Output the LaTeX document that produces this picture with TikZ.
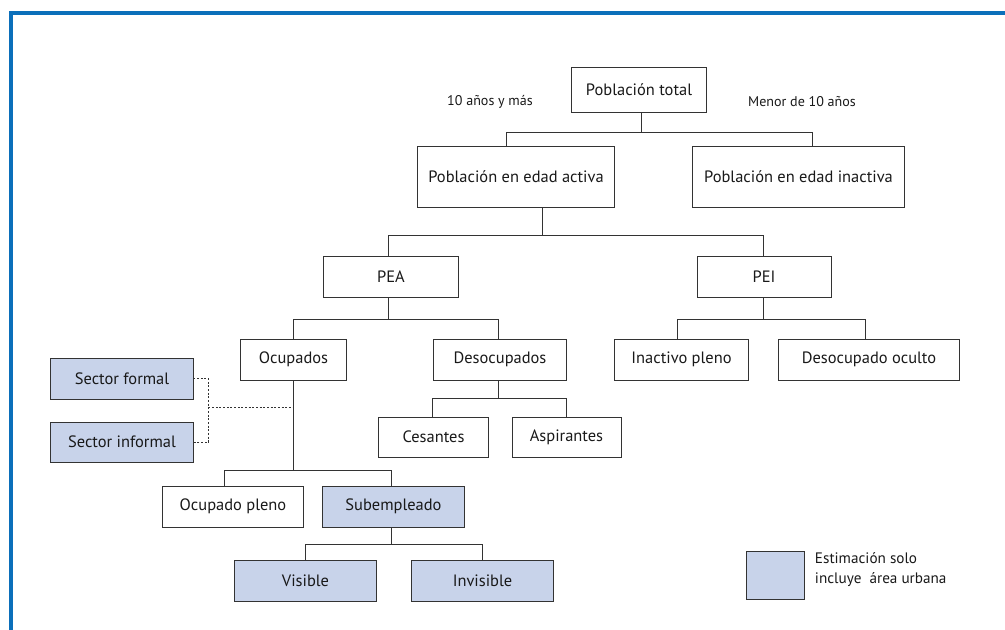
\documentclass[tikz,border=0pt]{standalone}
\usepackage{fontspec}
\setmainfont{PT Sans}
\usetikzlibrary{calc}
\definecolor{marco}{HTML}{0B6FBA}
\definecolor{urbano}{HTML}{C8D3EA}
\definecolor{linea}{HTML}{333333}
\tikzset{
  caja/.style={draw=linea, line width=0.7pt, minimum height=1.025cm, inner sep=2pt,
    text=black!90, font=\fontsize{11.7}{14}\selectfont},
  cajaurb/.style={caja, fill=urbano},
  rama/.style={draw=linea, line width=0.7pt},
  punteado/.style={draw=linea, line width=0.7pt, dash pattern=on 1.4pt off 1.2pt},
  etiq/.style={text=black!90, font=\fontsize{10}{14}\selectfont}
}
\begin{document}
\begin{tikzpicture}[x=0.025cm,y=-0.025cm]
  \useasboundingbox (0,0) rectangle (1005,630);
  \draw[marco, line width=2.2pt] (1005,13) -- (11,13) -- (11,630);

  % niveles superiores
  \node[caja, minimum width=3.35cm, minimum height=1.125cm] (tot) at (639,89.5) {Población total};
  \node[etiq] (mas10) at (490,102) {10 años y más};
  \node[etiq] (men10) at (802,102) {Menor de 10 años};
  \node[caja, minimum width=4.9cm, minimum height=1.5cm] (ea) at (516,177) {Población en edad activa};
  \node[caja, minimum width=5.275cm, minimum height=1.5cm] (ei) at (798.5,177) {Población en edad inactiva};

  \node[caja, minimum width=3.35cm] (pea) at (391,276.5) {PEA};
  \node[caja, minimum width=3.35cm] (pei) at (764,276.5) {PEI};

  \node[caja, minimum width=2.625cm] (ocu) at (293.5,359.5) {Ocupados};
  \node[caja, minimum width=3.3cm] (des) at (500,359.5) {Desocupados};
  \node[caja, minimum width=3.325cm] (inp) at (681.5,359.5) {Inactivo pleno};
  \node[caja, minimum width=4.5cm] (dso) at (869,359.5) {Desocupado oculto};

  \node[caja, minimum width=2.725cm, minimum height=1cm] (ces) at (433.5,437) {Cesantes};
  \node[caja, minimum width=2.725cm, minimum height=1cm] (asp) at (566.5,437) {Aspirantes};

  \node[cajaurb, minimum width=3.55cm] (sf) at (122,378.5) {Sector formal};
  \node[cajaurb, minimum width=3.55cm, minimum height=1cm] (si) at (122,442) {Sector informal};

  \node[caja, minimum width=3.5cm] (ocp) at (233,506.5) {Ocupado pleno};
  \node[cajaurb, minimum width=3.525cm] (sub) at (393.5,506.5) {Subempleado};
  \node[cajaurb, minimum width=3.525cm] (vis) at (305.5,580.5) {Visible};
  \node[cajaurb, minimum width=3.525cm] (inv) at (482.5,580.5) {Invisible};

  % leyenda
  \node[cajaurb, minimum width=1.45cm, minimum height=1.2cm] (ley) at (775,575) {};
  \node[etiq, font=\fontsize{10.8}{14.2}\selectfont, anchor=west, align=left] (leytxt) at (810,570) {Estimación solo\\incluye\ \ área urbana};

  % ramas
  \draw[rama] ($(tot.south)+(2,0)$) -- ++(0,19.5) coordinate (j0);
  \draw[rama] (j0) -| ($(ea.north)+(-10,0)$);
  \draw[rama] (j0) -| ($(ei.north)+(13.5,0)$);

  \draw[rama] ($(ea.south)+(26,0)$) -- ++(0,28) coordinate (j1);
  \draw[rama] (j1) -| ($(pea.north)+(-3,0)$);
  \draw[rama] (j1) -| ($(pei.north)+(-1,0)$);

  \draw[rama] ($(pea.south)+(-3,0)$) -- ++(0,22) coordinate (j2);
  \draw[rama] (j2) -| (ocu.north);
  \draw[rama] (j2) -| ($(des.north)+(-2,0)$);

  \draw[rama] ($(pei.south)+(-1,0)$) -- ++(0,22) coordinate (j3);
  \draw[rama] (j3) -| ($(inp.north)+(-4,0)$);
  \draw[rama] (j3) -| ($(dso.north)+(-4,0)$);

  \draw[rama] ($(des.south)+(-2,0)$) -- ++(0,18) coordinate (j4);
  \draw[rama] (j4) -| ($(ces.north)+(-1.5,0)$);
  \draw[rama] (j4) -| (asp.north);

  \draw[rama] (ocu.south) -- ++(0,89.5) coordinate (j5);
  \draw[rama] (j5) -| ($(ocp.north)+(-9,0)$);
  \draw[rama] (j5) -| ($(sub.north)+(-2.5,0)$);

  \draw[rama] ($(sub.south)+(-2.5,0)$) -- ++(0,17) coordinate (j6);
  \draw[rama] (j6) -| (vis.north);
  \draw[rama] (j6) -| (inv.north);

  % sectores (punteado)
  \draw[punteado] (sf.east) -| ($(sf.east)!0.45!(si.east)+(15,0)$) coordinate (jm) |- (si.east);
  \draw[punteado] (jm) -- (jm -| ocu.south);
\end{tikzpicture}
\end{document}
